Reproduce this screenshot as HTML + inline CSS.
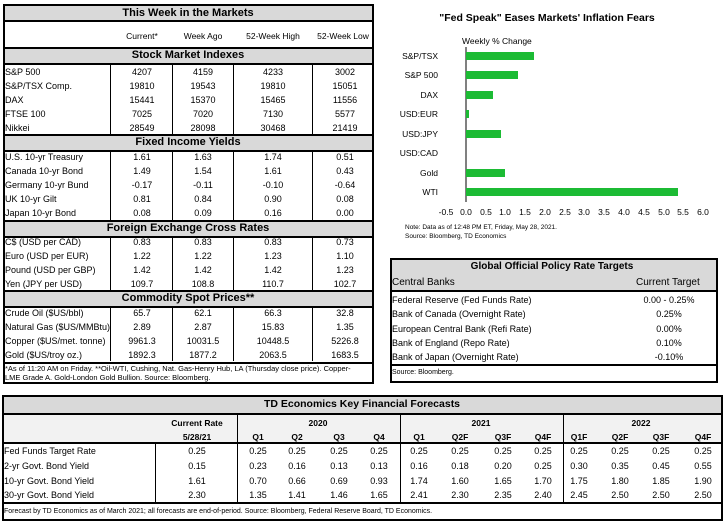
<!DOCTYPE html>
<html><head><meta charset="utf-8"><style>
*{margin:0;padding:0;box-sizing:border-box}
body{width:725px;height:527px;background:#fff;position:relative;overflow:hidden;font-family:"Liberation Sans",sans-serif;color:#000}
.a{position:absolute}
.t{position:absolute;font-size:9px;line-height:12px;white-space:nowrap}
.c{transform:translateX(-50%)}
.b{font-weight:bold}
.g{background:#d9d9d9}
.hl{position:absolute;height:2px;background:#000}
.vl{position:absolute;width:1px;background:#000}
</style></head><body>

<div class="a" style="left:3px;top:4px;width:371px;height:380px;border:2px solid #000"></div>
<div class="a g" style="left:5px;top:6px;width:367px;height:14px"></div>
<div class="hl" style="left:3px;top:20px;width:371px"></div>
<div class="t b c" style="left:188px;top:7px;font-size:11px">This Week in the Markets</div>
<div class="t c" style="left:142px;top:30px;font-size:8.5px">Current*</div>
<div class="t c" style="left:203px;top:30px;font-size:8.5px">Week Ago</div>
<div class="t c" style="left:273px;top:30px;font-size:8.5px">52-Week High</div>
<div class="t c" style="left:343px;top:30px;font-size:8.5px">52-Week Low</div>

<div id="lt"></div>

<div class="hl" style="left:3px;top:362px;width:371px"></div>
<div class="t" style="left:5px;top:364px;font-size:7.5px;line-height:10px">*As of 11:20 AM on Friday. **Oil-WTI, Cushing, Nat. Gas-Henry Hub, LA (Thursday close price). Copper-</div>
<div class="t" style="left:5px;top:373px;font-size:7.5px;line-height:10px">LME Grade A. Gold-London Gold Bullion. Source: Bloomberg.</div>

<svg class="a" style="left:0;top:0" width="725" height="250" font-family="Liberation Sans, sans-serif">
<text x="547" y="21" font-size="10.5" font-weight="bold" text-anchor="middle">"Fed Speak" Eases Markets' Inflation Fears</text>
<text x="462" y="44" font-size="8.5">Weekly % Change</text>
<line x1="466" y1="47" x2="466" y2="202" stroke="#000" stroke-width="1"/>
<g fill="#1cbb34">
<rect x="466" y="52" width="68" height="8"/>
<rect x="466" y="71" width="52" height="8"/>
<rect x="466" y="91" width="27" height="8"/>
<rect x="466" y="110" width="3" height="8"/>
<rect x="466" y="130" width="35" height="8"/>
<rect x="466" y="169" width="39" height="8"/>
<rect x="466" y="188" width="212" height="8"/>
</g>
<g font-size="8.5" text-anchor="end">
<text x="438" y="59">S&amp;P/TSX</text>
<text x="438" y="78">S&amp;P 500</text>
<text x="438" y="98">DAX</text>
<text x="438" y="117">USD:EUR</text>
<text x="438" y="137">USD:JPY</text>
<text x="438" y="156">USD:CAD</text>
<text x="438" y="176">Gold</text>
<text x="438" y="195">WTI</text>
</g>
<g font-size="8.5" text-anchor="middle">
<text x="446" y="215">-0.5</text><text x="466" y="215">0.0</text><text x="486" y="215">0.5</text>
<text x="505" y="215">1.0</text><text x="525" y="215">1.5</text><text x="545" y="215">2.0</text>
<text x="565" y="215">2.5</text><text x="584" y="215">3.0</text><text x="604" y="215">3.5</text>
<text x="624" y="215">4.0</text><text x="644" y="215">4.5</text><text x="664" y="215">5.0</text>
<text x="683" y="215">5.5</text><text x="703" y="215">6.0</text>
</g>
<text x="405" y="229" font-size="6.5">Note: Data as of 12:48 PM ET, Friday, May 28, 2021.</text>
<text x="405" y="238" font-size="6.5">Source: Bloomberg, TD Economics</text>
</svg>

<div class="a" style="left:390px;top:258px;width:328px;height:125px;border:2px solid #000"></div>
<div class="a g" style="left:392px;top:260px;width:324px;height:30px"></div>
<div class="hl" style="left:390px;top:290px;width:328px"></div>
<div class="t b c" style="left:552px;top:261px;font-size:10px">Global Official Policy Rate Targets</div>
<div class="t" style="left:392px;top:277px;font-size:10px">Central Banks</div>
<div class="t" style="left:636px;top:277px;font-size:10px">Current Target</div>
<div class="t" style="left:392px;top:294px">Federal Reserve (Fed Funds Rate)</div><div class="t c" style="left:669px;top:294px">0.00 - 0.25%</div>
<div class="t" style="left:392px;top:308px">Bank of Canada (Overnight Rate)</div><div class="t c" style="left:669px;top:308px">0.25%</div>
<div class="t" style="left:392px;top:323px">European Central Bank (Refi Rate)</div><div class="t c" style="left:669px;top:323px">0.00%</div>
<div class="t" style="left:392px;top:337px">Bank of England (Repo Rate)</div><div class="t c" style="left:669px;top:337px">0.10%</div>
<div class="t" style="left:392px;top:351px">Bank of Japan (Overnight Rate)</div><div class="t c" style="left:669px;top:351px">-0.10%</div>
<div class="hl" style="left:390px;top:364px;width:328px"></div>
<div class="t" style="left:392px;top:367px;font-size:7px">Source: Bloomberg.</div>

<div class="a" style="left:2px;top:395px;width:721px;height:126px;border:2px solid #000"></div>
<div class="a g" style="left:4px;top:397px;width:717px;height:16px"></div>
<div class="a" style="left:4px;top:414px;width:717px;height:29px;background:#f2f2f2"></div>
<div class="hl" style="left:2px;top:413px;width:721px"></div>
<div class="hl" style="left:2px;top:442px;width:721px"></div>
<div class="hl" style="left:2px;top:502px;width:721px"></div>
<div class="vl" style="left:155px;top:443px;height:59px"></div>
<div class="vl" style="left:237px;top:414px;height:88px"></div>
<div class="vl" style="left:400px;top:414px;height:88px"></div>
<div class="vl" style="left:563px;top:414px;height:88px"></div>
<div class="t b c" style="left:362px;top:398px;font-size:10.5px">TD Economics Key Financial Forecasts</div>
<div class="t b c" style="left:197px;top:417px;font-size:8.5px">Current Rate</div>
<div class="t b c" style="left:197px;top:431px;font-size:8.5px">5/28/21</div>
<div class="t b c" style="left:318px;top:417px;font-size:8.5px">2020</div>
<div class="t b c" style="left:481px;top:417px;font-size:8.5px">2021</div>
<div class="t b c" style="left:641px;top:417px;font-size:8.5px">2022</div>
<div id="ft"></div>
<div class="t" style="left:4px;top:506px;font-size:7px">Forecast by TD Economics as of March 2021; all forecasts are end-of-period. Source: Bloomberg, Federal Reserve Board, TD Economics.</div>

<script>
(function(){
var h='';
function T(x,y,s,cls,st){h+='<div class="t '+(cls||'')+'" style="left:'+x+'px;top:'+y+'px;'+(st||'')+'">'+s+'</div>';}
var secs=[
 ["Stock Market Indexes",48,135,[72,86,100,114,128],[["S&amp;P 500","4207","4159","4233","3002"],["S&amp;P/TSX Comp.","19810","19543","19810","15051"],["DAX","15441","15370","15465","11556"],["FTSE 100","7025","7020","7130","5577"],["Nikkei","28549","28098","30468","21419"]]],
 ["Fixed Income Yields",135,221,[157,171,185,199,213],[["U.S. 10-yr Treasury","1.61","1.63","1.74","0.51"],["Canada 10-yr Bond","1.49","1.54","1.61","0.43"],["Germany 10-yr Bund","-0.17","-0.11","-0.10","-0.64"],["UK 10-yr Gilt","0.81","0.84","0.90","0.08"],["Japan 10-yr Bond","0.08","0.09","0.16","0.00"]]],
 ["Foreign Exchange Cross Rates",221,291,[242,256,270,284],[["C$ (USD per CAD)","0.83","0.83","0.83","0.73"],["Euro (USD per EUR)","1.22","1.22","1.23","1.10"],["Pound (USD per GBP)","1.42","1.42","1.42","1.23"],["Yen (JPY per USD)","109.7","108.8","110.7","102.7"]]],
 ["Commodity Spot Prices**",291,362,[313,327,341,355],[["Crude Oil ($US/bbl)","65.7","62.1","66.3","32.8"],["Natural Gas ($US/MMBtu)","2.89","2.87","15.83","1.35"],["Copper ($US/met. tonne)","9961.3","10031.5","10448.5","5226.8"],["Gold ($US/troy oz.)","1892.3","1877.2","2063.5","1683.5"]]]
];
var cx=[142,203,273,345];
secs.forEach(function(s){
 var y=s[1];
 h+='<div class="a g" style="left:5px;top:'+y+'px;width:367px;height:15px"></div>';
 h+='<div class="hl" style="left:3px;top:'+(y-1)+'px;width:371px"></div>';
 h+='<div class="hl" style="left:3px;top:'+(y+15)+'px;width:371px"></div>';
 T(188,y+1,s[0],'b c','font-size:11px');
 var top=y+17, bot=s[2]-1;
 [110,172,233,312].forEach(function(x){h+='<div class="vl" style="left:'+x+'px;top:'+top+'px;height:'+(bot-top)+'px"></div>';});
 s[4].forEach(function(r,i){
  var ry=s[3][i]-6;
  T(5,ry,r[0]);
  for(var k=0;k<4;k++)T(cx[k],ry,r[k+1],'c');
 });
});
document.getElementById('lt').outerHTML=h;
h='';
var qx=[258,297,339,379,419,460,503,543,579,620,661,703];
var qn=["Q1","Q2","Q3","Q4","Q1","Q2F","Q3F","Q4F","Q1F","Q2F","Q3F","Q4F"];
qn.forEach(function(q,i){T(qx[i],431,q,'b c','font-size:8.5px');});
var rows=[["Fed Funds Target Rate","0.25",["0.25","0.25","0.25","0.25","0.25","0.25","0.25","0.25","0.25","0.25","0.25","0.25"]],
["2-yr Govt. Bond Yield","0.15",["0.23","0.16","0.13","0.13","0.16","0.18","0.20","0.25","0.30","0.35","0.45","0.55"]],
["10-yr Govt. Bond Yield","1.61",["0.70","0.66","0.69","0.93","1.74","1.60","1.65","1.70","1.75","1.80","1.85","1.90"]],
["30-yr Govt. Bond Yield","2.30",["1.35","1.41","1.46","1.65","2.41","2.30","2.35","2.40","2.45","2.50","2.50","2.50"]]];
var ys=[445,460,475,489];
rows.forEach(function(r,i){
 T(4,ys[i],r[0]);T(197,ys[i],r[1],'c');
 r[2].forEach(function(v,k){T(qx[k],ys[i],v,'c');});
});
document.getElementById('ft').outerHTML=h;
})();
</script>
</body></html>
